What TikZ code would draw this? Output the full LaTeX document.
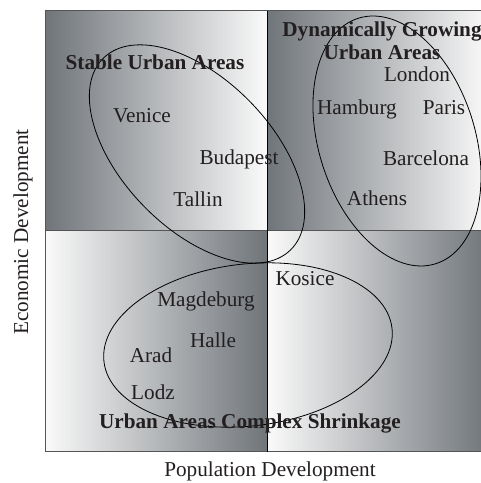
\documentclass[tikz,border=0pt]{standalone}
\usepackage{fontspec}
\setmainfont{Liberation Serif}
\definecolor{qdark}{RGB}{112,117,122}
\definecolor{qlight}{RGB}{250,250,250}
\definecolor{qline}{RGB}{85,85,85}
\definecolor{ink}{RGB}{35,31,32}
\begin{document}
\begin{tikzpicture}[x=1pt,y=1pt,
  lbl/.style={anchor=base,inner sep=0pt,text=ink,font=\fontsize{21.2}{25}\selectfont},
  head/.style={lbl,font=\fontsize{21.2}{25}\selectfont\bfseries},
  quad/.style={draw=qline,line width=1pt},
  group/.style={draw=black,line width=0.8pt}]
\useasboundingbox (0,0) rectangle (481,483);
\clip (0,0) rectangle (481,483);

% four quadrants, shaded across their width
\shade[left color=qdark,right color=qlight] (45,252) rectangle (267,472);
\shade[left color=qdark,right color=qlight] (267,252) rectangle (489,472);
\shade[left color=qlight,right color=qdark] (45,31) rectangle (267,252);
\shade[left color=qlight,right color=qdark] (267,31) rectangle (489,252);
\draw[quad] (45,252) rectangle (267,472);
\draw[quad] (267,252) rectangle (489,472);
\draw[quad] (45,31) rectangle (267,252);
\draw[quad] (267,31) rectangle (489,252);
\draw[black,line width=0.8pt] (267,31) -- (267,472);

% group outlines
\coordinate (cstable) at (197,329);
\coordinate (cgrow) at (397,342);
\coordinate (cshrink) at (248,138);
\draw[group,rotate around={-45.75:(cstable)}] (cstable) ellipse [x radius=134,y radius=74.5];
\draw[group,rotate around={-72.5:(cgrow)}] (cgrow) ellipse [x radius=128.7,y radius=78.2];
\draw[group,rotate around={6.6:(cshrink)}] (cshrink) ellipse [x radius=145,y radius=81];

% group headings
\node[head] (hstable) at (155,413) {Stable Urban Areas};
\node[head] (hgrow1) at (382,446) {Dynamically Growing};
\node[head] (hgrow2) at (382,423) {Urban Areas};
\node[head] (hshrink) at (250,55) {Urban Areas Complex Shrinkage};

% cities
\node[lbl] (london) at (417,401) {London};
\node[lbl] (hamburg) at (357,368) {Hamburg};
\node[lbl] (paris) at (444,368) {Paris};
\node[lbl] (venice) at (142,360) {Venice};
\node[lbl] (budapest) at (239,318) {Budapest};
\node[lbl] (barcelona) at (426,317) {Barcelona};
\node[lbl] (tallin) at (198,276) {Tallin};
\node[lbl] (athens) at (377,277) {Athens};
\node[lbl] (kosice) at (305,197) {Kosice};
\node[lbl] (magdeburg) at (206,176) {Magdeburg};
\node[lbl] (halle) at (213,135) {Halle};
\node[lbl] (arad) at (151,121) {Arad};
\node[lbl] (lodz) at (153,83) {Lodz};

% axis titles
\node[lbl] (xaxis) at (270,6) {Population Development};
\node[lbl,rotate=90] (yaxis) at (28,251) {Economic Development};
\end{tikzpicture}
\end{document}
